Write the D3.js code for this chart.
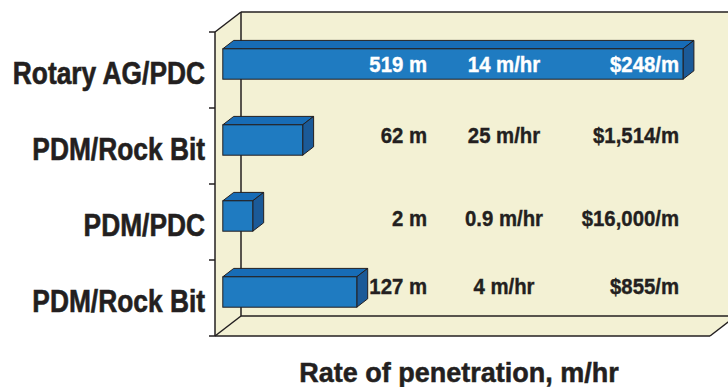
<!DOCTYPE html>
<html>
<head>
<meta charset="utf-8">
<script src="https://cdn.jsdelivr.net/npm/d3@7"></script>
<style>
  html, body { margin: 0; padding: 0; background: #ffffff; }
  svg { display: block; }
  text { font-family: "Liberation Sans", Arial, Helvetica, sans-serif; font-weight: bold; }
</style>
</head>
<body>
<svg id="chart" width="728" height="387"></svg>
<script>
// Drilling runs compared: footage drilled, rate of penetration and cost per metre
const categories = ["Rotary AG/PDC", "PDM/Rock Bit", "PDM/PDC", "PDM/Rock Bit"];
const footage = [519, 62, 2, 127];             // metres drilled (bar length)
const footageLabels = ["519 m", "62 m", "2 m", "127 m"];
const rateLabels = ["14 m/hr", "25 m/hr", "0.9 m/hr", "4 m/hr"];
const costLabels = ["$248/m", "$1,514/m", "$16,000/m", "$855/m"];
const axisTitle = "Rate of penetration, m/hr";

// ---- layout ----
const W = 728, H = 387;
const FX = 215, FY0 = 32, FY1 = 336;       // front plane of the box (left axis)
const DX = 26, DY = -20;                    // depth vector of the box
const FLOOR_END = 710;                      // front edge of floor, right end
const BAR_F0 = 0.3, BAR_F1 = 0.72;          // bar front / back as fraction of depth
const valueNudge = [1.7, -2.7, 3.7, -4];    // baseline tweak of the value rows

const colors = {
  wall: "#f3f1d4",
  line: "#231f20",
  front: "#1f7bc1",
  top: "#176cb6",
  side: "#1b5a98",
  text: "#231f20"
};

const svg = d3.select("#chart");

const x = d3.scaleLinear().domain([-34, 519]).range([FX, FX + 460.2]);
const y = d3.scaleBand().domain(d3.range(categories.length))
  .range([FY0, FY1]).paddingInner(0.6).paddingOuter(0.3);

// ---- box: left wall, back wall, floor ----
const g = svg.append("g");
g.append("polygon")
  .attr("points", [[FX, FY0], [FX + DX, FY0 + DY], [FX + DX, FY1 + DY], [FX, FY1]].join(" "))
  .attr("fill", colors.wall);
g.append("rect")
  .attr("x", FX + DX).attr("y", FY0 + DY)
  .attr("width", W + 20 - (FX + DX)).attr("height", FY1 - FY0)
  .attr("fill", colors.wall);
g.append("polygon")
  .attr("points", [[FX, FY1], [FX + DX, FY1 + DY], [FLOOR_END + DX, FY1 + DY], [FLOOR_END, FY1]].join(" "))
  .attr("fill", colors.wall);

const edges = [
  [[FX + DX, FY0 + DY], [W + 20, FY0 + DY]],         // back wall top
  [[FX + DX, FY0 + DY], [FX + DX, FY1 + DY]],        // back wall left edge
  [[FX + DX, FY1 + DY], [W + 20, FY1 + DY]],         // floor back edge
  [[FX, FY0], [FX + DX, FY0 + DY]],                  // top diagonal
  [[FX, FY1], [FX + DX, FY1 + DY]],                  // floor left diagonal
  [[FX, FY1], [FLOOR_END, FY1]],                     // floor front edge
  [[FLOOR_END, FY1], [FLOOR_END + DX, FY1 + DY]]     // floor right diagonal
];
g.selectAll("line.edge").data(edges).join("line")
  .attr("class", "edge")
  .attr("x1", d => d[0][0]).attr("y1", d => d[0][1])
  .attr("x2", d => d[1][0]).attr("y2", d => d[1][1])
  .attr("stroke", colors.line).attr("stroke-width", 1.5);

// ---- category axis on the front plane ----
const yAxis = d3.axisLeft(y).tickSize(0).tickFormat(() => "");
const axisG = svg.append("g").attr("transform", `translate(${FX},0)`).call(yAxis);
axisG.select(".domain").attr("stroke", colors.line).attr("stroke-width", 1.5)
  .attr("d", `M0,${FY0}V${FY1}`);
// separators between categories
const sepY = d3.range(categories.length + 1).map(i => FY0 + i * y.step());
axisG.selectAll("line.sep").data(sepY).join("line")
  .attr("class", "sep")
  .attr("x1", -6).attr("x2", 0)
  .attr("y1", d => d).attr("y2", d => d)
  .attr("stroke", colors.line).attr("stroke-width", 1.5);

svg.append("g").selectAll("text").data(categories).join("text")
  .attr("transform", (d, i) => `translate(205,${y(i) + y.bandwidth() / 2 + 13.5}) scale(0.85,1)`)
  .attr("text-anchor", "end")
  .attr("font-size", 31)
  .attr("fill", colors.text)
  .attr("stroke", colors.text).attr("stroke-width", 0.6)
  .text(d => d);

// ---- 3D bars ----
const bx0 = BAR_F0 * DX, by0 = BAR_F0 * DY;
const bdx = (BAR_F1 - BAR_F0) * DX, bdy = (BAR_F1 - BAR_F0) * DY;
const bars = svg.append("g").selectAll("g").data(footage).join("g")
  .attr("transform", (d, i) => `translate(${bx0},${y(i) + by0})`);
const bw = y.bandwidth();
// top face
bars.append("polygon")
  .attr("points", d => [[x(-34), 0], [x(-34) + bdx, bdy], [x(d) + bdx, bdy], [x(d), 0]].join(" "))
  .attr("fill", colors.top).attr("stroke", colors.line).attr("stroke-width", 1).attr("stroke-linejoin", "round");
// side face
bars.append("polygon")
  .attr("points", d => [[x(d), 0], [x(d) + bdx, bdy], [x(d) + bdx, bdy + bw], [x(d), bw]].join(" "))
  .attr("fill", colors.side).attr("stroke", colors.line).attr("stroke-width", 1).attr("stroke-linejoin", "round");
// front face
bars.append("rect")
  .attr("x", x(-34)).attr("y", 0)
  .attr("width", d => x(d) - x(-34)).attr("height", bw)
  .attr("fill", colors.front).attr("stroke", colors.line).attr("stroke-width", 1);

// ---- value annotations ----
const rowY = i => y(i) + y.bandwidth() / 2 + valueNudge[i];
const cols = [
  { labels: footageLabels, x: 427, anchor: "end" },
  { labels: rateLabels, x: 504, anchor: "middle" },
  { labels: costLabels, x: 679, anchor: "end" }
];
cols.forEach(col => {
  svg.append("g").selectAll("text").data(col.labels).join("text")
    .attr("transform", (d, i) => `translate(${col.x},${rowY(i)}) scale(0.885,1)`)
    .attr("text-anchor", col.anchor)
    .attr("font-size", 23)
    .attr("fill", (d, i) => (i === 0 ? "#ffffff" : colors.text))
    .attr("stroke", (d, i) => (i === 0 ? "#ffffff" : colors.text)).attr("stroke-width", 0.4)
    .text(d => d);
});

// ---- axis title ----
svg.append("text")
  .attr("transform", `translate(459,382) scale(1,1)`)
  .attr("text-anchor", "middle")
  .attr("font-size", 27)
  .attr("fill", colors.text)
  .attr("stroke", colors.text).attr("stroke-width", 0.5)
  .text(axisTitle);
</script>
</body>
</html>
